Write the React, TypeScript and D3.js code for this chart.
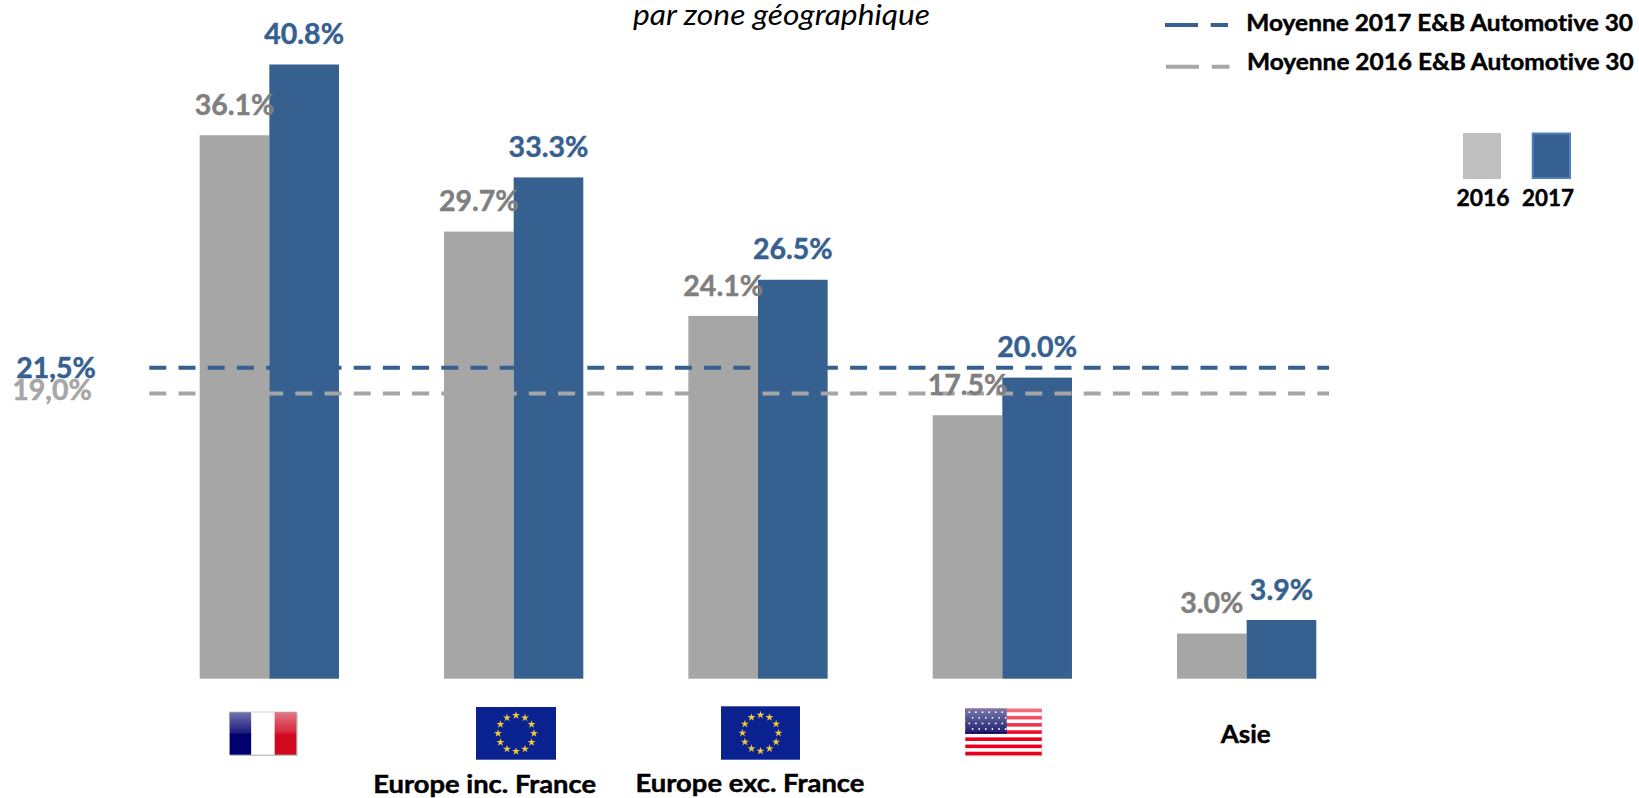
import React from "react";
import * as d3 from "d3";

const categories = ["France", "Europe inc. France", "Europe exc. France", "USA", "Asie"];
const values2016 = [36.1, 29.7, 24.1, 17.5, 3.0];
const values2017 = [40.8, 33.3, 26.5, 20.0, 3.9];
const seriesNames = ["2016", "2017"];
const averageLabels = ["21,5%", "19,0%"];
// where the reference draws the two average lines on the value scale
const averagePositions = [20.66, 18.95];
const legendLabels = ["Moyenne 2017 E&B Automotive 30", "Moyenne 2016 E&B Automotive 30"];
const titleText = "par zone géographique";

const WIDTH = 1639;
const HEIGHT = 798;
const BLUE = "#36608F";
const GREY = "#A6A6A6";
const GREY_LABEL = "#7F7F7F";
const FONT = "Lato, Carlito, sans-serif";

const x0 = d3.scaleBand<string>().domain(categories).range([199.7, 1316.3]).paddingInner(0.43).paddingOuter(0);
const x1 = d3.scaleBand<string>().domain(seriesNames).range([0, x0.bandwidth()]);
const y = d3.scaleLinear().domain([0, 40.8]).range([678.7, 64.5]);

const pct = (v: number) => `${v.toFixed(1)}%`;
const starPath = d3.symbol().type(d3.symbolStar);

function Bold({ x, y: ty, color, width, anchor, size, children }: any) {
  return (
    <text
      x={x}
      y={ty}
      fill={color}
      stroke={color}
      strokeWidth={0.45}
      fontWeight={700}
      fontSize={size}
      textAnchor={anchor ?? "middle"}
      textLength={width}
      lengthAdjust={width ? "spacingAndGlyphs" : undefined}
      style={{ fontVariantLigatures: "none" }}
    >
      {children}
    </text>
  );
}

function EuFlag({ x, yTop, w, h, r }: { x: number; yTop: number; w: number; h: number; r: number }) {
  const cx = x + w / 2;
  const cy = yTop + h / 2;
  return (
    <g>
      <rect x={x} y={yTop} width={w} height={h} fill="#0A2290" />
      {d3.range(12).map((i) => {
        const a = (i * Math.PI) / 6;
        return (
          <path
            key={i}
            d={starPath.size(20)() as string}
            fill="#EFC93A"
            transform={`translate(${cx + r * Math.sin(a)},${cy - r * Math.cos(a)})`}
          />
        );
      })}
    </g>
  );
}

function FrenchFlag() {
  const fx = 229.3, fy = 712, fw = 67.4, fh = 43;
  return (
    <g>
      <rect x={fx + 1} y={fy + 1} width={fw} height={fh} fill="#999" opacity={0.6} />
      <rect x={fx} y={fy} width={22} height={fh} fill="#00006E" />
      <rect x={fx + 22} y={fy} width={23.4} height={fh} fill="#FFFFFF" />
      <rect x={fx + 45.4} y={fy} width={22} height={fh} fill="#CF0A20" />
      <rect x={fx} y={fy} width={fw} height={fh / 2} fill="url(#gloss)" />
      <rect x={fx} y={fy} width={fw} height={fh} fill="none" stroke="#BBB" strokeWidth={0.7} />
    </g>
  );
}

function UsFlag() {
  const fx = 965.3, fy = 708.7, fw = 76.4, fh = 46.6;
  const sh = fh / 13;
  return (
    <g>
      <rect x={fx + 0.5} y={fy + 1} width={fw} height={fh} fill="#999" opacity={0.6} />
      <rect x={fx} y={fy} width={fw} height={fh} fill="#FFFFFF" />
      {d3.range(0, 13, 2).map((i) => (
        <rect key={i} x={fx} y={fy + i * sh} width={fw} height={sh} fill="#E8001E" />
      ))}
      <rect x={fx} y={fy} width={41.4} height={sh * 7} fill="#0A0A66" />
      {d3.range(5).map((r) =>
        d3.range(6).map((c) => (
          <circle key={`${r}-${c}`} cx={fx + 4 + c * 6.6 + (r % 2) * 3.3} cy={fy + 3.5 + r * 5.6} r={0.9} fill="#FFF" />
        ))
      )}
      <rect x={fx} y={fy} width={fw} height={fh / 2} fill="url(#gloss)" />
    </g>
  );
}

export default function App() {
  const lineColors = [BLUE, GREY];
  return (
    <svg
      width={WIDTH}
      height={HEIGHT}
      viewBox={`0 0 ${WIDTH} ${HEIGHT}`}
      style={{ position: "absolute", left: 0, top: 0, display: "block", background: "#fff" }}
      fontFamily={FONT}
    >
      <defs>
        <linearGradient id="gloss" x1="0" y1="0" x2="0" y2="1">
          <stop offset="0" stopColor="#fff" stopOpacity={0.45} />
          <stop offset="1" stopColor="#fff" stopOpacity={0.1} />
        </linearGradient>
      </defs>

      <text
        x={781.5}
        y={25}
        textAnchor="middle"
        fontStyle="italic"
        fontSize={28}
        fill="#000"
        textLength={297}
        lengthAdjust="spacingAndGlyphs"
      >
        {titleText}
      </text>

      {categories.map((c, i) => (
        <g key={c} transform={`translate(${x0(c)},0)`}>
          <rect x={x1("2016")} y={y(values2016[i])} width={x1.bandwidth()} height={y(0) - y(values2016[i])} fill={GREY} />
          <rect x={x1("2017")} y={y(values2017[i])} width={x1.bandwidth()} height={y(0) - y(values2017[i])} fill={BLUE} />
        </g>
      ))}

      {averagePositions.map((v, i) => (
        <line
          key={i}
          x1={149.3}
          x2={1329}
          y1={y(v)}
          y2={y(v)}
          stroke={lineColors[i]}
          strokeWidth={4}
          strokeDasharray="17 12.2"
        />
      ))}

      {categories.map((c, i) => (
        <g key={c} transform={`translate(${x0(c)},0)`}>
          <Bold x={x1("2016")! + x1.bandwidth() / 2} y={y(values2016[i]) - 20.4} color={GREY_LABEL} size={28.5}>
            {pct(values2016[i])}
          </Bold>
          <Bold x={x1("2017")! + x1.bandwidth() / 2} y={y(values2017[i]) - 20.4} color={BLUE} size={28.5}>
            {pct(values2017[i])}
          </Bold>
        </g>
      ))}

      <Bold x={56} y={378} color={BLUE} size={28.5}>{averageLabels[0]}</Bold>
      <Bold x={52} y={400} color={GREY} size={28.5}>{averageLabels[1]}</Bold>

      <FrenchFlag />
      <EuFlag x={476} yTop={707} w={80} h={52.7} r={18} />
      <EuFlag x={721} yTop={706.3} w={79} h={53.4} r={18} />
      <UsFlag />

      <Bold x={484.7} y={793} color="#000" size={24} width={222.7}>{categories[1]}</Bold>
      <Bold x={750} y={791.5} color="#000" size={24} width={228.9}>{categories[2]}</Bold>
      <Bold x={1245.7} y={742.7} color="#000" size={24} width={50}>{categories[4]}</Bold>

      <line x1={1165} x2={1228} y1={25} y2={25} stroke={BLUE} strokeWidth={4} strokeDasharray="33 12.7 17.3" />
      <line x1={1166} x2={1229.5} y1={66.7} y2={66.7} stroke={GREY} strokeWidth={4} strokeDasharray="33 12.7 17.8" />
      <Bold x={1246.3} y={30.7} color="#000" size={22.5} width={386.7} anchor="start">{legendLabels[0]}</Bold>
      <Bold x={1247} y={70} color="#000" size={22.5} width={386.7} anchor="start">{legendLabels[1]}</Bold>

      <rect x={1463} y={133} width={38} height={46} fill="#BFBFBF" />
      <rect x={1532.7} y={133.5} width={37.3} height={44.5} fill={BLUE} stroke="#4F81BD" strokeWidth={2} />
      <Bold x={1483} y={205.7} color="#000" size={22.5} width={53}>{seriesNames[0]}</Bold>
      <Bold x={1548} y={205.7} color="#000" size={22.5} width={52}>{seriesNames[1]}</Bold>
    </svg>
  );
}
